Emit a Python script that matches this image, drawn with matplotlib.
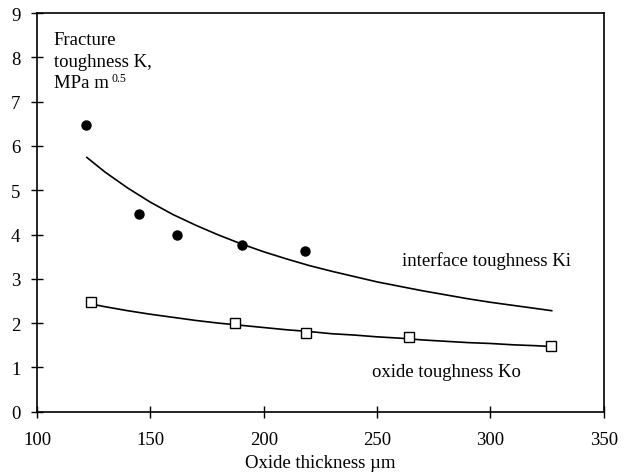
import numpy as np
import matplotlib
matplotlib.use('Agg')
import matplotlib.pyplot as plt

matplotlib.rcParams['font.family'] = 'Liberation Serif'
matplotlib.rcParams['font.size'] = 13.5

# measured points, interface toughness Ki
ki_x = [121.8, 144.9, 161.8, 190.6, 218.1]
ki_y = [6.47, 4.46, 3.99, 3.77, 3.62]
# fitted curve for Ki
ki_fit_x = [122, 130, 140, 150, 160, 170, 180, 190, 200, 210, 220, 230, 240,
            250, 260, 270, 280, 290, 300, 310, 320, 327]
ki_fit_y = [5.74, 5.41, 5.05, 4.73, 4.45, 4.21, 3.99, 3.79, 3.61, 3.45, 3.30, 3.17, 3.05,
            2.93, 2.83, 2.73, 2.64, 2.55, 2.47, 2.40, 2.33, 2.28]

# oxide toughness Ko
ko_x = [124.0, 187.2, 218.8, 263.9, 326.6]
ko_y = [2.47, 2.00, 1.78, 1.68, 1.49]
ko_fit_x = [122, 130, 140, 150, 160, 170, 180, 190, 200, 210, 220, 230, 240,
            250, 260, 270, 280, 290, 300, 310, 320, 327]
ko_fit_y = [2.45, 2.37, 2.28, 2.20, 2.13, 2.06, 2.00, 1.95, 1.90, 1.85, 1.81, 1.76, 1.73,
            1.69, 1.66, 1.62, 1.59, 1.56, 1.54, 1.51, 1.49, 1.47]

fig = plt.figure(figsize=(6.31, 4.77), dpi=100)
ax = fig.add_axes([0.0586, 0.1348, 0.8984, 0.8358])

ax.plot(ki_fit_x, ki_fit_y, 'k-', lw=1.2)
ax.plot(ki_x, ki_y, 'ko', ms=6.5, ls='none')
ax.plot(ko_fit_x, ko_fit_y, 'k-', lw=1.2)
ax.plot(ko_x, ko_y, 's', ms=6.5, mfc='white', mec='black', mew=1.0, ls='none')

ax.set_xlim(100, 350)
ax.set_ylim(0, 9)
ax.set_xticks(np.arange(100, 351, 50))
ax.set_yticks(np.arange(0, 10, 1))
ax.tick_params(direction='inout', length=8, width=1, labelsize=13.5)
ax.tick_params(axis='x', pad=10)
ax.tick_params(axis='y', pad=8)
for s in ax.spines.values():
    s.set_linewidth(1.2)

ax.set_xlabel(u'Oxide thickness µm', fontsize=13.5, labelpad=4)

# y-axis title drawn inside the plot, line by line
ax.text(107.4, 8.30, 'Fracture', va='baseline', ha='left')
ax.text(107.4, 7.80, 'toughness K,', va='baseline', ha='left')
ax.text(107.4, 7.33, 'MPa m', va='baseline', ha='left')
ax.text(133.0, 7.33 + 6.5 / 44.3, '0.5', va='baseline', ha='left', fontsize=8.5)

ax.text(261, 3.42, 'interface toughness Ki', va='center', ha='left')
ax.text(247.8, 0.9, 'oxide toughness Ko', va='center', ha='left')

fig.savefig('out.png', dpi=100)
